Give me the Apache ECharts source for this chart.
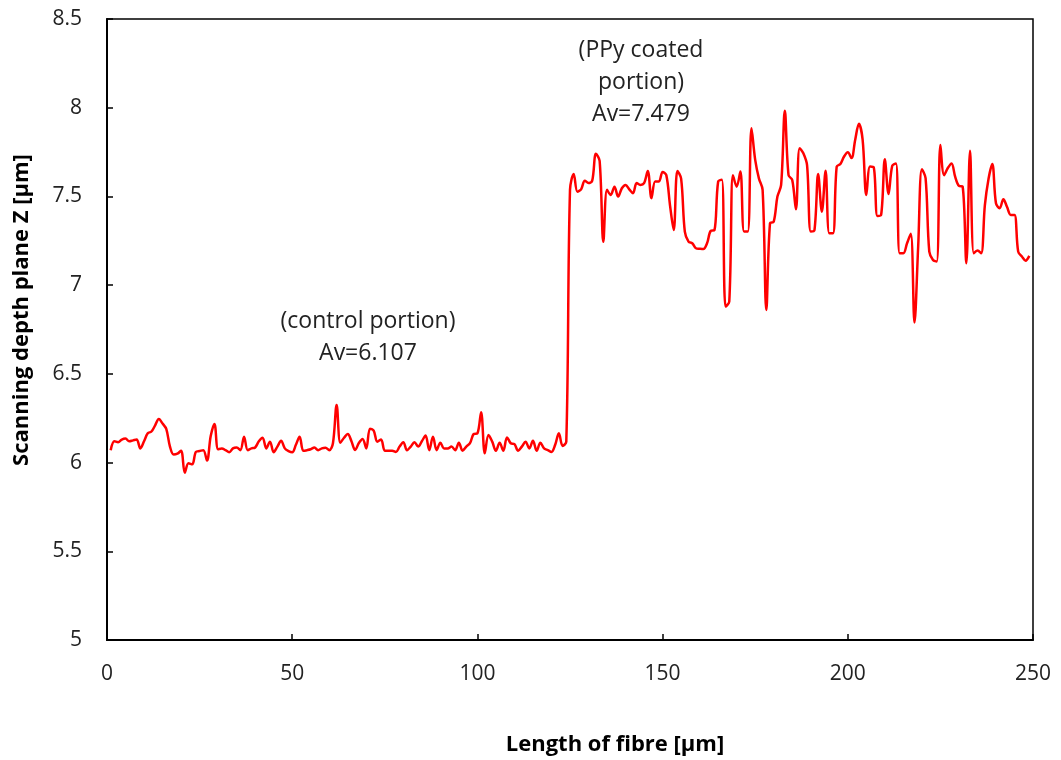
<!DOCTYPE html>
<html>
<head>
<meta charset="utf-8">
<script src="https://cdn.jsdelivr.net/npm/echarts@6/dist/echarts.min.js"></script>
<style>
  html, body { margin: 0; padding: 0; background: #fff; }
  #chart { width: 1061px; height: 760px; }
</style>
</head>
<body>
<div id="chart"></div>
<script>
// scanning depth readings, one per micrometre starting at x = 1
const startX = 1
const depthZ = [
  6.07, 6.12, 6.115, 6.13, 6.135, 6.12, 6.125, 6.13, 6.08, 6.12,
  6.165, 6.175, 6.21, 6.246, 6.22, 6.19, 6.09, 6.045, 6.05, 6.067,
  5.943, 5.996, 5.99, 6.06, 6.065, 6.07, 6.011, 6.15, 6.218, 6.075,
  6.08, 6.07, 6.058, 6.08, 6.085, 6.07, 6.146, 6.07, 6.08, 6.085,
  6.12, 6.14, 6.08, 6.118, 6.058, 6.09, 6.123, 6.08, 6.065, 6.058,
  6.1, 6.146, 6.067, 6.07, 6.075, 6.085, 6.07, 6.08, 6.083, 6.07,
  6.109, 6.325, 6.112, 6.14, 6.161, 6.12, 6.071, 6.11, 6.133, 6.08,
  6.191, 6.18, 6.118, 6.13, 6.067, 6.067, 6.067, 6.06, 6.09, 6.115,
  6.07, 6.09, 6.115, 6.09, 6.12, 6.152, 6.07, 6.146, 6.07, 6.112,
  6.08, 6.08, 6.09, 6.07, 6.112, 6.067, 6.09, 6.109, 6.161, 6.165,
  6.284, 6.052, 6.155, 6.118, 6.067, 6.112, 6.067, 6.142, 6.109, 6.104,
  6.067, 6.09, 6.118, 6.08, 6.123, 6.067, 6.112, 6.08, 6.07, 6.06,
  6.1, 6.165, 6.094, 6.118, 7.537, 7.627, 7.527, 7.54, 7.589, 7.575,
  7.589, 7.74, 7.70, 7.245, 7.537, 7.508, 7.555, 7.499, 7.546, 7.565,
  7.54, 7.518, 7.575, 7.565, 7.575, 7.644, 7.49, 7.584, 7.584, 7.638,
  7.62, 7.45, 7.311, 7.644, 7.6, 7.302, 7.245, 7.236, 7.208, 7.205,
  7.203, 7.236, 7.306, 7.31, 7.584, 7.594, 6.879, 6.908, 7.62, 7.555,
  7.64, 7.302, 7.302, 7.884, 7.706, 7.602, 7.537, 6.86, 7.349, 7.358,
  7.499, 7.565, 7.983, 7.62, 7.593, 7.428, 7.772, 7.744, 7.677, 7.302,
  7.31, 7.627, 7.414, 7.645, 7.292, 7.292, 7.668, 7.683, 7.725, 7.749,
  7.716, 7.82, 7.909, 7.82, 7.508, 7.668, 7.664, 7.39, 7.396, 7.709,
  7.514, 7.673, 7.686, 7.18, 7.18, 7.236, 7.289, 6.789, 7.218, 7.653,
  7.603, 7.189, 7.142, 7.133, 7.79, 7.62, 7.66, 7.686, 7.61, 7.56,
  7.556, 7.123, 7.758, 7.18, 7.195, 7.18, 7.45, 7.6, 7.683, 7.462,
  7.434, 7.484, 7.44, 7.396, 7.396, 7.189, 7.161, 7.138, 7.165
]

const xTicks = [0, 50, 100, 150, 200, 250]
const yTicks = [5, 5.5, 6, 6.5, 7, 7.5, 8, 8.5]

const controlNote = ['(control portion)', 'Av=6.107']
const coatedNote = ['(PPy coated', 'portion)', 'Av=7.479']

const font = '"Open Sans", "Noto Sans", sans-serif'

const chart = echarts.init(document.getElementById('chart'))

const points = depthZ.map((z, i) => [startX + i, z])

const option = {
  backgroundColor: '#fff',
  animation: false,
  grid: {
    left: 107,
    right: 28,
    top: 19,
    bottom: 120,
    show: true,
    borderColor: '#000',
    borderWidth: 1.5
  },
  xAxis: {
    type: 'value',
    min: xTicks[0],
    max: xTicks[xTicks.length - 1],
    interval: 50,
    axisLine: { lineStyle: { color: '#000', width: 2 } },
    axisTick: { inside: true, length: 6, lineStyle: { color: '#000', width: 1.5 } },
    axisLabel: { color: '#222', fontSize: 21, fontFamily: font, margin: 24 },
    splitLine: { show: false }
  },
  yAxis: {
    type: 'value',
    min: yTicks[0],
    max: yTicks[yTicks.length - 1],
    interval: 0.5,
    axisLine: { show: true, lineStyle: { color: '#000', width: 2 } },
    axisTick: { show: true, inside: true, length: 6, lineStyle: { color: '#000', width: 1.5 } },
    axisLabel: { color: '#222', fontSize: 21, fontFamily: font, margin: 25 },
    splitLine: { show: false }
  },
  graphic: [
    {
      type: 'text',
      x: 22,
      y: 310,
      rotation: Math.PI / 2,
      style: {
        text: 'Scanning depth plane Z [µm]',
        font: 'bold 22px ' + font,
        fill: '#000',
        align: 'center',
        verticalAlign: 'middle'
      }
    },
    {
      type: 'text',
      x: 615,
      y: 745,
      style: {
        text: 'Length of fibre [µm]',
        font: 'bold 22px ' + font,
        fill: '#000',
        align: 'center',
        verticalAlign: 'middle'
      }
    },
    {
      type: 'text',
      x: 368,
      y: 337,
      style: {
        text: controlNote.join('\n'),
        font: '23px ' + font,
        lineHeight: 32,
        fill: '#222',
        align: 'center',
        verticalAlign: 'middle'
      }
    },
    {
      type: 'text',
      x: 641,
      y: 82,
      style: {
        text: coatedNote.join('\n'),
        font: '23px ' + font,
        lineHeight: 32,
        fill: '#222',
        align: 'center',
        verticalAlign: 'middle'
      }
    }
  ],
  series: [
    {
      type: 'line',
      data: points,
      smooth: 0.35,
      showSymbol: false,
      lineStyle: { color: '#ff0000', width: 2.5 }
    }
  ]
}

chart.setOption(option)
</script>
</body>
</html>
